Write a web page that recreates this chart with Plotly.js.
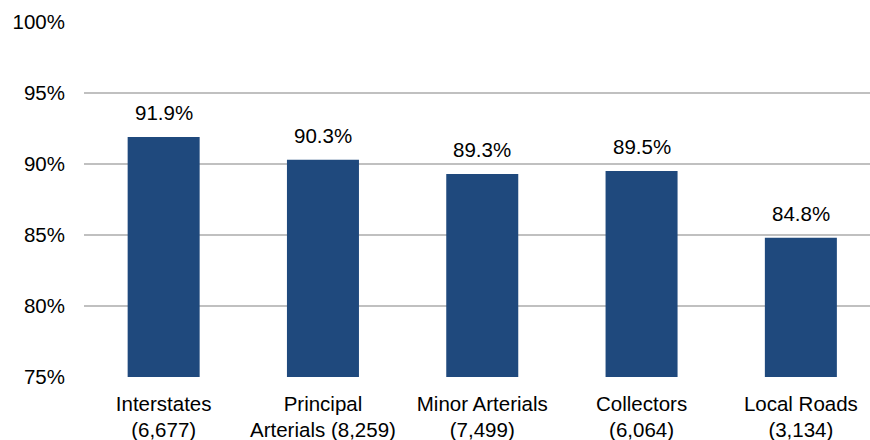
<!DOCTYPE html>
<html>
<head>
<meta charset="utf-8">
<script src="https://cdn.plot.ly/plotly-3.0.1.min.js"></script>
<style>html,body{margin:0;padding:0;background:#fff;}#chart{width:870px;height:440px;}</style>
</head>
<body>
<div id="chart"></div>
<script>
var categories = ["Interstates", "Principal<br>Arterials", "Minor Arterials", "Collectors", "Local Roads"];
var counts = ["6,677", "8,259", "7,499", "6,064", "3,134"];
var values = [91.9, 90.3, 89.3, 89.5, 84.8];
var valueLabels = ["91.9%", "90.3%", "89.3%", "89.5%", "84.8%"];
var yTicks = [75, 80, 85, 90, 95, 100];

var xIdx = categories.map(function(_, i){ return i; });
var tickText = categories.map(function(c, i){
  if (c.indexOf("<br>") >= 0) {
    var parts = c.split("<br>");
    return parts[0] + "<br>" + parts[1] + " (" + counts[i] + ")";
  }
  return c + "<br>(" + counts[i] + ")";
});

var font = {family: "Liberation Sans, Arial, sans-serif", size: 20.5, color: "#000"};

var trace = {
  type: "bar",
  x: xIdx,
  y: values.map(function(v){ return v - 75; }),
  base: 75,
  width: 0.452,
  marker: {color: "#1F497D"},
  hoverinfo: "none"
};

var annotations = values.map(function(v, i){
  return {x: i, y: v, text: valueLabels[i], showarrow: false, yanchor: "bottom",
          yshift: 11, font: font, xref: "x", yref: "y"};
});

var layout = {
  width: 870, height: 440,
  margin: {l: 84, r: 0, t: 22, b: 63},
  paper_bgcolor: "#fff", plot_bgcolor: "#fff",
  showlegend: false,
  font: font,
  xaxis: {
    range: [-0.5, 4.434],
    tickvals: xIdx, ticktext: tickText,
    showgrid: false, zeroline: false, showline: false,
    ticks: "", ticklabelstandoff: 12,
    tickfont: font, fixedrange: true
  },
  yaxis: {
    range: [75, 100],
    tickvals: yTicks,
    ticktext: yTicks.map(function(t){ return t + "%"; }),
    showgrid: true, gridcolor: "#C0C0C0", gridwidth: 1.3,
    zeroline: false, showline: false, ticks: "",
    ticklabelstandoff: 18,
    tickfont: font, fixedrange: true
  },
  annotations: annotations
};

Plotly.newPlot("chart", [trace], layout, {staticPlot: true, displayModeBar: false});
</script>
</body>
</html>
